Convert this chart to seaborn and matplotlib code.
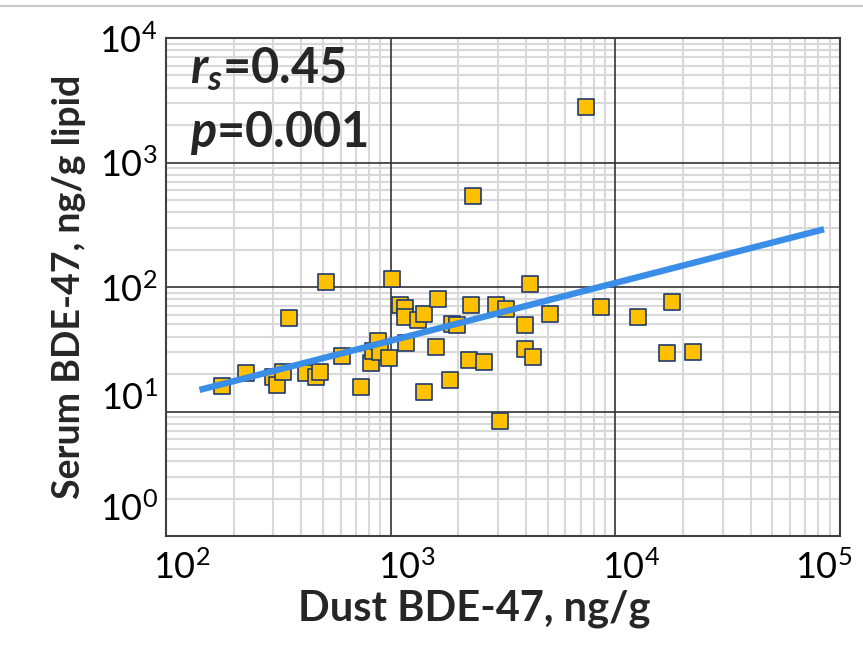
import numpy as np
import pandas as pd
import matplotlib
matplotlib.use("Agg")
import matplotlib.pyplot as plt
import matplotlib.ticker as mticker
from matplotlib.lines import Line2D
from matplotlib.transforms import ScaledTranslation
import seaborn as sns

# ---- data ----
dust_ng_g = [178, 226, 299, 312, 331, 352, 421, 463, 486, 514,
             605, 735, 815, 832, 878, 893, 983, 1013, 1096, 1161,
             1161, 1172, 1323, 1403, 1403, 1624, 1598, 1831, 1869, 1967,
             2225, 2287, 2317, 2603, 2935, 3251, 3066, 3952, 3952, 4301,
             4179, 5130, 7434, 8610, 12620, 17960, 16990, 22180]
serum_ng_g_lipid = [16.0, 20.3, 19.1, 16.3, 20.9, 56.1, 20.3, 19.1, 20.9, 109,
                    27.9, 15.6, 24.5, 30.6, 36.6, 30.2, 26.7, 115, 71.7, 67.8,
                    56.9, 35.5, 54.3, 60.7, 14.4, 79.7, 33.0, 17.8, 50.4, 49.1,
                    25.9, 71.3, 538, 25.1, 71.7, 66.2, 8.43, 49.1, 31.5, 27.2,
                    106, 60.7, 2806, 69.5, 57.7, 75.4, 29.7, 30.2]
fit_x = [141, 84900]
fit_y = [14.9, 291]
x_ticks = [1e2, 1e3, 1e4, 1e5]
y_ticks = [1e0, 1e1, 1e2, 1e3, 1e4]
stat_lines = [r"$r_s$=0.45", r"$p$=0.001"]

df = pd.DataFrame({"dust": dust_ng_g, "serum": serum_ng_g_lipid})
fit_df = pd.DataFrame({"x": fit_x, "y": fit_y})

sns.set_theme(style="white")
plt.rcParams["font.family"] = ["Lato", "DejaVu Sans"]
plt.rcParams["mathtext.fontset"] = "custom"
plt.rcParams["mathtext.it"] = "Lato:italic:bold"
plt.rcParams["mathtext.rm"] = "Lato"
plt.rcParams["mathtext.bf"] = "Lato:bold"

fig = plt.figure(figsize=(8.63, 6.5), dpi=100)
ax = fig.add_axes([166 / 863, 1 - 536 / 650, (840 - 166) / 863, (536 - 38) / 650])

ax.set_xscale("log")
ax.set_yscale("log")
ax.set_xlim(1e2, 1e5)
ax.set_ylim(1e0, 1e4)

ax.xaxis.set_major_locator(mticker.FixedLocator(x_ticks))
ax.yaxis.set_major_locator(mticker.FixedLocator(y_ticks))
ax.xaxis.set_minor_locator(mticker.LogLocator(base=10, subs=np.arange(2, 10), numticks=20))
ax.yaxis.set_minor_locator(mticker.LogLocator(base=10, subs=np.arange(2, 10), numticks=20))
ax.xaxis.set_major_formatter(mticker.LogFormatterSciNotation())
ax.yaxis.set_major_formatter(mticker.LogFormatterSciNotation())
ax.xaxis.set_minor_formatter(mticker.NullFormatter())
ax.yaxis.set_minor_formatter(mticker.NullFormatter())

# light minor grid (below everything), dark decade lines drawn on top of it
ax.grid(which="minor", color="#d9d9d9", linewidth=1.5)
ax.grid(which="major", visible=False)
ax.set_axisbelow(True)
for xv in x_ticks[1:-1]:
    ax.axvline(xv, color="#333333", linewidth=1.2, zorder=1)
for yv in y_ticks[1:-1]:
    ax.axhline(yv, color="#333333", linewidth=1.2, zorder=1)

sns.scatterplot(data=df, x="dust", y="serum", ax=ax, marker="s", s=125,
                color="#FFC000", edgecolor="#1F3A6E", linewidth=1.2, zorder=3)
sns.lineplot(data=fit_df, x="x", y="y", ax=ax, color="#3A8EE8", linewidth=4.6,
             zorder=4, solid_capstyle="butt")

for sp in ax.spines.values():
    sp.set_color("#404040")
    sp.set_linewidth(1.5)
    sp.set_visible(True)

ax.tick_params(which="both", length=0)
ax.tick_params(axis="x", labelsize=26, pad=10, colors="black")
ax.tick_params(axis="y", labelsize=26, pad=6, colors="black")

fig.canvas.draw()
x_shift_px = [16, 16, 16, -16]
for lab, dx in zip(ax.xaxis.get_majorticklabels(), x_shift_px):
    lab.set_transform(lab.get_transform() + ScaledTranslation(dx / 100, 0, fig.dpi_scale_trans))
y_shift_px = [30, 16, 0, 0, 0]
for lab, dy in zip(ax.yaxis.get_majorticklabels(), y_shift_px):
    lab.set_transform(lab.get_transform() + ScaledTranslation(0, dy / 100, fig.dpi_scale_trans))

ax.set_xlabel("Dust BDE-47, ng/g", fontsize=30, fontweight="bold")
ax.xaxis.label.set_va("center")
ax.xaxis.set_label_coords((474 - 166) / 674, -(609 - 536) / 498)
ax.set_ylabel("Serum BDE-47, ng/g lipid", fontsize=27, fontweight="bold")
ax.yaxis.set_label_coords(-(166 - 86) / 674, 0.5)

fig.text(190 / 863, 1 - 83 / 650, stat_lines[0], fontsize=35, fontweight="bold",
         ha="left", va="baseline")
fig.text(190 / 863, 1 - 147 / 650, stat_lines[1], fontsize=35, fontweight="bold",
         ha="left", va="baseline")

fig.add_artist(Line2D([0, 1], [1 - 6 / 650, 1 - 6 / 650], color="#c8c8c8", linewidth=1.5))

fig.savefig("out.png", dpi=100)
